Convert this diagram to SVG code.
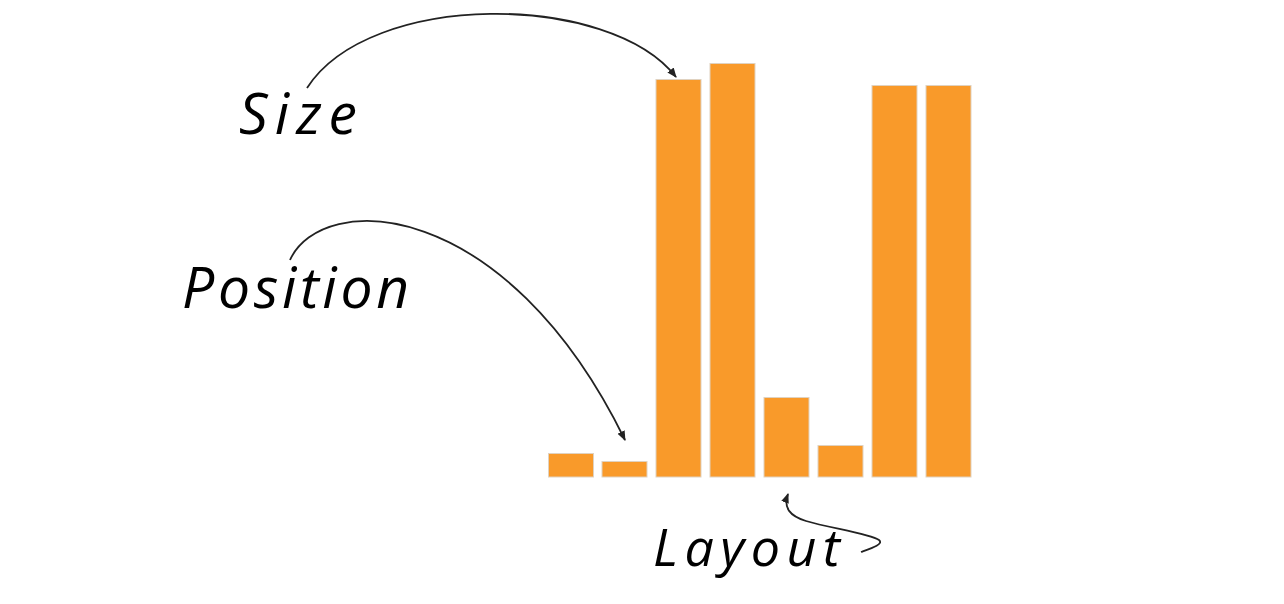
<svg xmlns="http://www.w3.org/2000/svg" width="1284" height="604" viewBox="0 0 1284 604">
<style>
.bar{fill:#F99A2A;stroke:#E0D2C0;stroke-width:1}
.lbl{font-family:"Open Sans","DejaVu Sans",sans-serif;font-style:italic;fill:#000}
.con{fill:none;stroke:#222;stroke-width:1.8}
</style>
<defs>
<marker id="ah" viewBox="0 0 10 10" refX="9" refY="5" markerWidth="5.5" markerHeight="5.5" orient="auto" markerUnits="strokeWidth">
<path d="M0,1 L10,5 L0,9 z" fill="#222"/>
</marker>
</defs>
<rect width="1284" height="604" fill="#fff"/>
<g id="bars">
<rect class="bar" x="548.5" y="453.5" width="45" height="23.5"/>
<rect class="bar" x="602" y="461.5" width="45" height="15.5"/>
<rect class="bar" x="656" y="79.5" width="45" height="397.5"/>
<rect class="bar" x="710" y="63.5" width="45" height="413.5"/>
<rect class="bar" x="764" y="397.5" width="45" height="79.5"/>
<rect class="bar" x="818" y="445.5" width="45" height="31.5"/>
<rect class="bar" x="872" y="85.5" width="45" height="391.5"/>
<rect class="bar" x="926" y="85.5" width="45" height="391.5"/>
</g>
<g id="size"><text class="lbl" x="239" y="134" font-size="57" textLength="118" lengthAdjust="spacing">Size</text></g>
<g id="position"><text class="lbl" x="182" y="308" font-size="57" textLength="227" lengthAdjust="spacing">Position</text></g>
<g id="layout"><text class="lbl" x="653" y="566" font-size="52" textLength="187" lengthAdjust="spacing">Layout</text></g>
<g id="connectors">
<path class="con" d="M307,88 C370,-10 610,-8 676,77" marker-end="url(#ah)"/>
<path class="con" d="M290,260 C322,190 505,195 625,440" marker-end="url(#ah)"/>
<path class="con" d="M861,552 C872,548 884,544 879,540 C870,534 830,528 806,521 C790,516 783,508 788,494" marker-end="url(#ah)"/>
</g>
</svg>
